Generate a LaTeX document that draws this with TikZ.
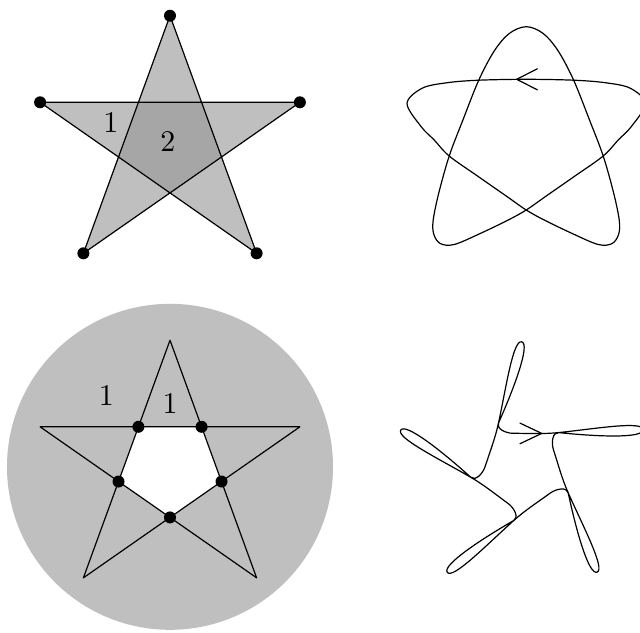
\documentclass[tikz,border=0pt]{standalone}
\begin{document}
\begin{tikzpicture}[x=0.333333pt,y=0.333333pt,
  dot/.style={circle,fill=black,inner sep=0pt,minimum size=4pt},
  lab/.style={inner sep=0pt},
  edge/.style={line width=0.4pt,line join=round,line cap=round},
  lightfill/.style={fill=black!25},
  darkfill/.style={fill=black!35}]
\useasboundingbox (0,0) rectangle (640,632);

% ---------- top left: filled star ----------
\coordinate (T) at (170,616.3);
\coordinate (L) at (40.1,529.7);
\coordinate (R) at (299.9,529.7);
\coordinate (BL) at (83.4,378.7);
\coordinate (BR) at (256.6,378.7);
\coordinate (Q1) at (138.4,529.7);
\coordinate (Q2) at (201.6,529.7);
\coordinate (Q3) at (221.5,475);
\coordinate (Q4) at (170,439.1);
\coordinate (Q5) at (118.5,475);
\fill[lightfill] (T) -- (BL) -- (R) -- (L) -- (BR) -- cycle;
\fill[darkfill] (Q1) -- (Q2) -- (Q3) -- (Q4) -- (Q5) -- cycle;
\draw[edge] (T) -- (BL) -- (R) -- (L) -- (BR) -- cycle;
\foreach \p in {T,L,R,BL,BR} \node[dot] (d\p) at (\p) {};
\node[lab] (one) at (110.8,509) {1};
\node[lab] (two) at (167.8,490.8) {2};

% ---------- bottom left: star in a disc ----------
\begin{scope}[shift={(0,-324.5)}]
\coordinate (lT) at (170,616.3);
\coordinate (lL) at (40.1,529.7);
\coordinate (lR) at (299.9,529.7);
\coordinate (lBL) at (83.4,378.7);
\coordinate (lBR) at (256.6,378.7);
\coordinate (lQ1) at (138.4,529.7);
\coordinate (lQ2) at (201.6,529.7);
\coordinate (lQ3) at (221.5,475);
\coordinate (lQ4) at (170,439.1);
\coordinate (lQ5) at (118.5,475);
\coordinate (disc) at (170,489.7);
\fill[lightfill] (disc) circle[radius=163];
\fill[white] (lQ1) -- (lQ2) -- (lQ3) -- (lQ4) -- (lQ5) -- cycle;
\draw[edge] (lT) -- (lBL) -- (lR) -- (lL) -- (lBR) -- cycle;
\foreach \p in {lQ1,lQ2,lQ3,lQ4,lQ5} \node[dot] (d\p) at (\p) {};
\node[lab] (lone) at (106.3,561.5) {1};
\node[lab] (ltwo) at (170.2,553) {1};
\end{scope}

% ---------- top right: smooth curve ----------
\draw[edge] plot[smooth cycle,tension=0.55] coordinates {
 (526.2,552.7) (478.7,551.8) (447.2,549.3) (422.2,543.8)
 (407.0,528.5) (421.2,505.3) (434.2,492) (449.2,476)
 (478.2,455.5) (506.2,436) (526.2,422) (544.2,412) (572.2,398.5)
 (598.2,387.5) (612.2,388.5) (618.7,398) (619.2,412) (613.7,438.7)
 (603.2,476) (589.5,512) (573.7,551.7) (558.2,581) (543.2,598.5)
 (526.2,605.3) (509.2,598.5) (494.2,581) (478.7,551.7) (462.9,512)
 (449.2,476) (438.7,438.7) (433.2,412) (433.7,398) (440.2,388.5)
 (454.2,387.5) (480.2,398.5) (508.2,412) (526.2,422) (546.2,436)
 (574.2,455.5) (603.2,476) (618.2,492) (631.2,505.3)
 (645.4,528.5) (630.2,543.8) (605.2,549.3) (573.7,551.8)};
\coordinate (ta) at (516.7,552.7);
\draw[edge] (ta) ++(20.6,10.5) -- (ta) -- ++(20.6,-10.5);

% ---------- bottom right: curve with five petals ----------
\begin{scope}[shift={(522,162.8)}]
\foreach \k in {0,...,4}{
 \begin{scope}[rotate=-72*\k]
 \draw[edge] (-23.5,46.2) .. controls (-15.6,83.4) and (-8.85,129.9) .. (-0.2,127.4)
   .. controls (8.45,124.9) and (-8.04,80.9) .. (-23.5,46.2)
   .. controls (-25.94,40.72) and (-16.7,35.9) .. (-8.7,35.9)
   .. controls (6.3,35.9) and (21.76,35.06) .. (36.68,36.63);
 \end{scope}
}
\coordinate (ba) at (19.7,35.8);
\draw[edge] (ba) ++(-21.7,10.3) -- (ba) -- ++(-21.7,-10.3);
\end{scope}
\end{tikzpicture}
\end{document}
